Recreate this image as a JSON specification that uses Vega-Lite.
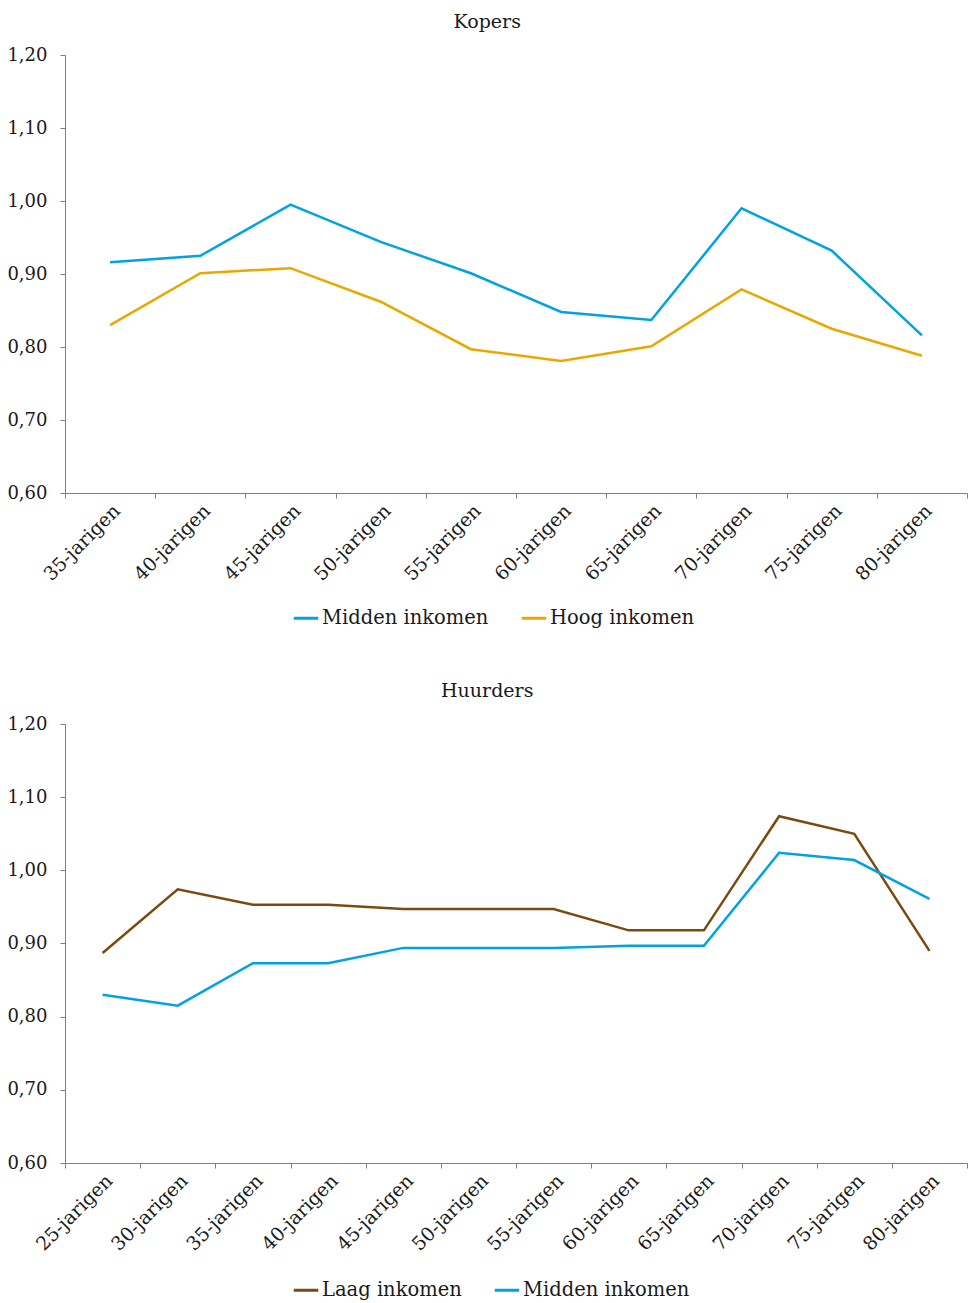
{
  "$schema": "https://vega.github.io/schema/vega-lite/v6.json",
  "background": "white",
  "padding": {"left": 6, "top": 13, "right": 1, "bottom": 4},
  "config": {
    "font": "DejaVu Serif",
    "view": {"stroke": null},
    "axis": {
      "grid": false,
      "domainColor": "#7f7f7f",
      "tickColor": "#7f7f7f",
      "tickSize": 5,
      "labelFont": "DejaVu Serif",
      "labelFontSize": 18,
      "labelColor": "#1a1a1a",
      "title": null
    },
    "axisX": {"labelFontSize": 19},
    "legend": {
      "labelFont": "DejaVu Serif",
      "labelFontSize": 19.5,
      "labelColor": "#1a1a1a",
      "labelLimit": 0,
      "symbolType": "stroke",
      "symbolSize": 600,
      "symbolStrokeWidth": 3,
      "columnPadding": 26,
      "labelOffset": 2
    },
    "title": {"font": "DejaVu Serif", "fontSize": 19, "fontWeight": "normal", "color": "#1a1a1a", "frame": "bounds", "anchor": "middle", "offset": 14}
  },
  "datasets": {
    "kopers": [
      {"leeftijd": "35-jarigen", "groep": "Midden inkomen", "waarde": 0.916},
      {"leeftijd": "40-jarigen", "groep": "Midden inkomen", "waarde": 0.925},
      {"leeftijd": "45-jarigen", "groep": "Midden inkomen", "waarde": 0.995},
      {"leeftijd": "50-jarigen", "groep": "Midden inkomen", "waarde": 0.944},
      {"leeftijd": "55-jarigen", "groep": "Midden inkomen", "waarde": 0.901},
      {"leeftijd": "60-jarigen", "groep": "Midden inkomen", "waarde": 0.848},
      {"leeftijd": "65-jarigen", "groep": "Midden inkomen", "waarde": 0.837},
      {"leeftijd": "70-jarigen", "groep": "Midden inkomen", "waarde": 0.990},
      {"leeftijd": "75-jarigen", "groep": "Midden inkomen", "waarde": 0.932},
      {"leeftijd": "80-jarigen", "groep": "Midden inkomen", "waarde": 0.816},
      {"leeftijd": "35-jarigen", "groep": "Hoog inkomen", "waarde": 0.830},
      {"leeftijd": "40-jarigen", "groep": "Hoog inkomen", "waarde": 0.901},
      {"leeftijd": "45-jarigen", "groep": "Hoog inkomen", "waarde": 0.908},
      {"leeftijd": "50-jarigen", "groep": "Hoog inkomen", "waarde": 0.862},
      {"leeftijd": "55-jarigen", "groep": "Hoog inkomen", "waarde": 0.797},
      {"leeftijd": "60-jarigen", "groep": "Hoog inkomen", "waarde": 0.781},
      {"leeftijd": "65-jarigen", "groep": "Hoog inkomen", "waarde": 0.801},
      {"leeftijd": "70-jarigen", "groep": "Hoog inkomen", "waarde": 0.879},
      {"leeftijd": "75-jarigen", "groep": "Hoog inkomen", "waarde": 0.825},
      {"leeftijd": "80-jarigen", "groep": "Hoog inkomen", "waarde": 0.788}
    ],
    "huurders": [
      {"leeftijd": "25-jarigen", "groep": "Laag inkomen", "waarde": 0.887},
      {"leeftijd": "30-jarigen", "groep": "Laag inkomen", "waarde": 0.974},
      {"leeftijd": "35-jarigen", "groep": "Laag inkomen", "waarde": 0.953},
      {"leeftijd": "40-jarigen", "groep": "Laag inkomen", "waarde": 0.953},
      {"leeftijd": "45-jarigen", "groep": "Laag inkomen", "waarde": 0.947},
      {"leeftijd": "50-jarigen", "groep": "Laag inkomen", "waarde": 0.947},
      {"leeftijd": "55-jarigen", "groep": "Laag inkomen", "waarde": 0.947},
      {"leeftijd": "60-jarigen", "groep": "Laag inkomen", "waarde": 0.918},
      {"leeftijd": "65-jarigen", "groep": "Laag inkomen", "waarde": 0.918},
      {"leeftijd": "70-jarigen", "groep": "Laag inkomen", "waarde": 1.074},
      {"leeftijd": "75-jarigen", "groep": "Laag inkomen", "waarde": 1.050},
      {"leeftijd": "80-jarigen", "groep": "Laag inkomen", "waarde": 0.890},
      {"leeftijd": "25-jarigen", "groep": "Midden inkomen", "waarde": 0.830},
      {"leeftijd": "30-jarigen", "groep": "Midden inkomen", "waarde": 0.815},
      {"leeftijd": "35-jarigen", "groep": "Midden inkomen", "waarde": 0.873},
      {"leeftijd": "40-jarigen", "groep": "Midden inkomen", "waarde": 0.873},
      {"leeftijd": "45-jarigen", "groep": "Midden inkomen", "waarde": 0.894},
      {"leeftijd": "50-jarigen", "groep": "Midden inkomen", "waarde": 0.894},
      {"leeftijd": "55-jarigen", "groep": "Midden inkomen", "waarde": 0.894},
      {"leeftijd": "60-jarigen", "groep": "Midden inkomen", "waarde": 0.897},
      {"leeftijd": "65-jarigen", "groep": "Midden inkomen", "waarde": 0.897},
      {"leeftijd": "70-jarigen", "groep": "Midden inkomen", "waarde": 1.024},
      {"leeftijd": "75-jarigen", "groep": "Midden inkomen", "waarde": 1.014},
      {"leeftijd": "80-jarigen", "groep": "Midden inkomen", "waarde": 0.961}
    ]
  },
  "resolve": {"scale": {"color": "independent"}, "legend": {"color": "independent"}},
  "spacing": 54,
  "vconcat": [
    {
      "title": "Kopers",
      "width": 902,
      "height": 438,
      "data": {"name": "kopers"},
      "mark": {"type": "line", "strokeWidth": 2.5},
      "encoding": {
        "x": {
          "field": "leeftijd", "type": "nominal", "sort": null,
          "scale": {"type": "band", "paddingInner": 0, "paddingOuter": 0},
          "axis": {"labelAngle": -45, "tickBand": "extent", "labelPadding": 3}
        },
        "y": {
          "field": "waarde", "type": "quantitative",
          "scale": {"domain": [0.6, 1.2], "nice": false, "zero": false},
          "axis": {"values": [0.6, 0.7, 0.8, 0.9, 1.0, 1.1, 1.2], "labelExpr": "replace(format(datum.value, '.2f'), '.', ',')", "labelPadding": 13}
        },
        "color": {
          "field": "groep", "type": "nominal",
          "scale": {"domain": ["Midden inkomen", "Hoog inkomen"], "range": ["#00a3e0", "#e9a800"]},
          "legend": {"orient": "none", "legendX": 227, "legendY": 549, "direction": "horizontal", "title": null}
        }
      }
    },
    {
      "title": "Huurders",
      "width": 902,
      "height": 439,
      "data": {"name": "huurders"},
      "mark": {"type": "line", "strokeWidth": 2.5},
      "encoding": {
        "x": {
          "field": "leeftijd", "type": "nominal", "sort": null,
          "scale": {"type": "band", "paddingInner": 0, "paddingOuter": 0},
          "axis": {"labelAngle": -45, "tickBand": "extent", "labelPadding": 3}
        },
        "y": {
          "field": "waarde", "type": "quantitative",
          "scale": {"domain": [0.6, 1.2], "nice": false, "zero": false},
          "axis": {"values": [0.6, 0.7, 0.8, 0.9, 1.0, 1.1, 1.2], "labelExpr": "replace(format(datum.value, '.2f'), '.', ',')", "labelPadding": 13}
        },
        "color": {
          "field": "groep", "type": "nominal",
          "scale": {"domain": ["Laag inkomen", "Midden inkomen"], "range": ["#7a4a10", "#00a3e0"]},
          "legend": {"orient": "none", "legendX": 227, "legendY": 552, "direction": "horizontal", "title": null}
        }
      }
    }
  ]
}
